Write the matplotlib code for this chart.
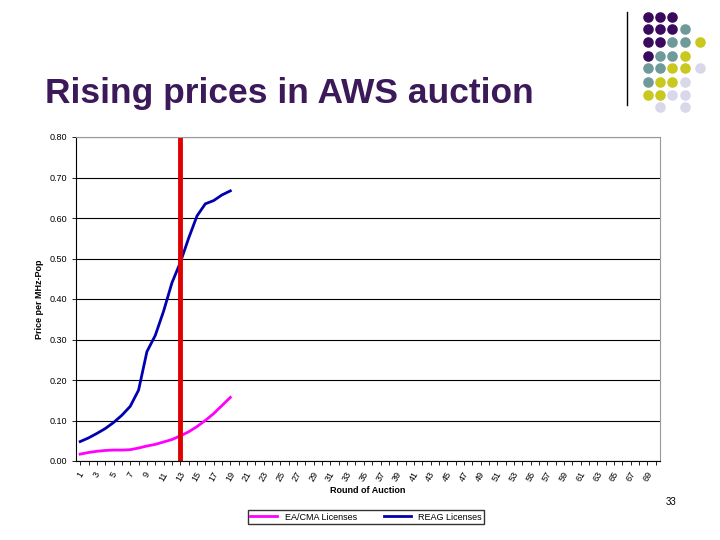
import matplotlib
matplotlib.use("Agg")
import matplotlib.pyplot as plt

rounds = list(range(1, 20))
reag = [0.048, 0.057, 0.068, 0.080, 0.095, 0.113, 0.135, 0.175, 0.270, 0.310,
        0.370, 0.440, 0.490, 0.550, 0.605, 0.635, 0.643, 0.657, 0.667]
eacma = [0.017, 0.021, 0.024, 0.026, 0.027, 0.027, 0.028, 0.032, 0.037, 0.041,
         0.047, 0.053, 0.062, 0.072, 0.085, 0.100, 0.117, 0.137, 0.157]
marker_round = 13
n_rounds = 70

fig = plt.figure(figsize=(7.2, 5.4), dpi=100)
fig.text(0.062, 0.81, "Rising prices in AWS auction", fontsize=25.5, fontweight="bold",
         color="#3c1a5a", family="Liberation Sans")
fig.text(0.94, 0.065, "33", fontsize=7, ha="right", family="Liberation Sans")

# decoration
fig.add_artist(plt.Line2D([627/720, 627/720], [1-12/540, 1-105/540], color="black", lw=1))
P, T, Y, L = "#3a0a5e", "#6e9a9a", "#c8c81e", "#d8d8ea"
rows = [[P, P, P], [P, P, P, T], [P, P, T, T, Y], [P, T, T, Y], [T, T, Y, Y, L],
        [T, Y, Y, L], [Y, Y, L, L]]
cx = [648, 660, 672, 685, 700]
ry = [17, 29, 42, 56, 68, 82, 95]
deco = fig.add_axes([0, 0, 1, 1], zorder=-1)
deco.set_xlim(0, 720); deco.set_ylim(540, 0); deco.axis("off")
for r, row in enumerate(rows):
    for c, col in enumerate(row):
        deco.scatter(cx[c], ry[r], s=58, color=col, linewidths=0)
deco.scatter([660, 685], [107, 107], s=58, color=L, linewidths=0)

ax = fig.add_axes([76/720, 1-461/540, 584/720, 324/540])
x = rounds
ax.plot(x, eacma, color="#ff00ff", lw=2, label="EA/CMA Licenses")
ax.plot(x, reag, color="#0000b0", lw=2, label="REAG Licenses")
ax.axvline(marker_round, color="#e00000", lw=3.5)
ax.set_xlim(0.5, n_rounds + 0.5)
ax.set_ylim(0, 0.8)
ax.set_yticks([i/10 for i in range(9)])
ax.set_yticklabels([f"{i/10:.2f}" for i in range(9)], fontsize=6.5, family="Liberation Sans")
ax.yaxis.grid(True, color="black", lw=0.8)
ax.set_xticks(range(1, n_rounds + 1))
ax.set_xticklabels([str(i) if i % 2 == 1 else "" for i in range(1, n_rounds + 1)],
                   rotation=60, fontsize=6.5, family="Liberation Sans")
ax.tick_params(length=3, width=0.6)
for s in ["top", "right"]:
    ax.spines[s].set_color("#999999")
ax.set_xlabel("Round of Auction", fontsize=6.5, fontweight="bold", family="Liberation Sans", labelpad=2)
ax.set_ylabel("Price per MHz-Pop", fontsize=6.5, fontweight="bold", family="Liberation Sans", labelpad=4)
fig.legend(loc="center", bbox_to_anchor=(366/720, 1-517/540), ncol=2,
           frameon=True, fancybox=False, edgecolor="black", handlelength=3,
           columnspacing=3, borderpad=0.3, prop={"family": "Liberation Sans", "size": 6.5})
fig.savefig("out.png", dpi=100)
